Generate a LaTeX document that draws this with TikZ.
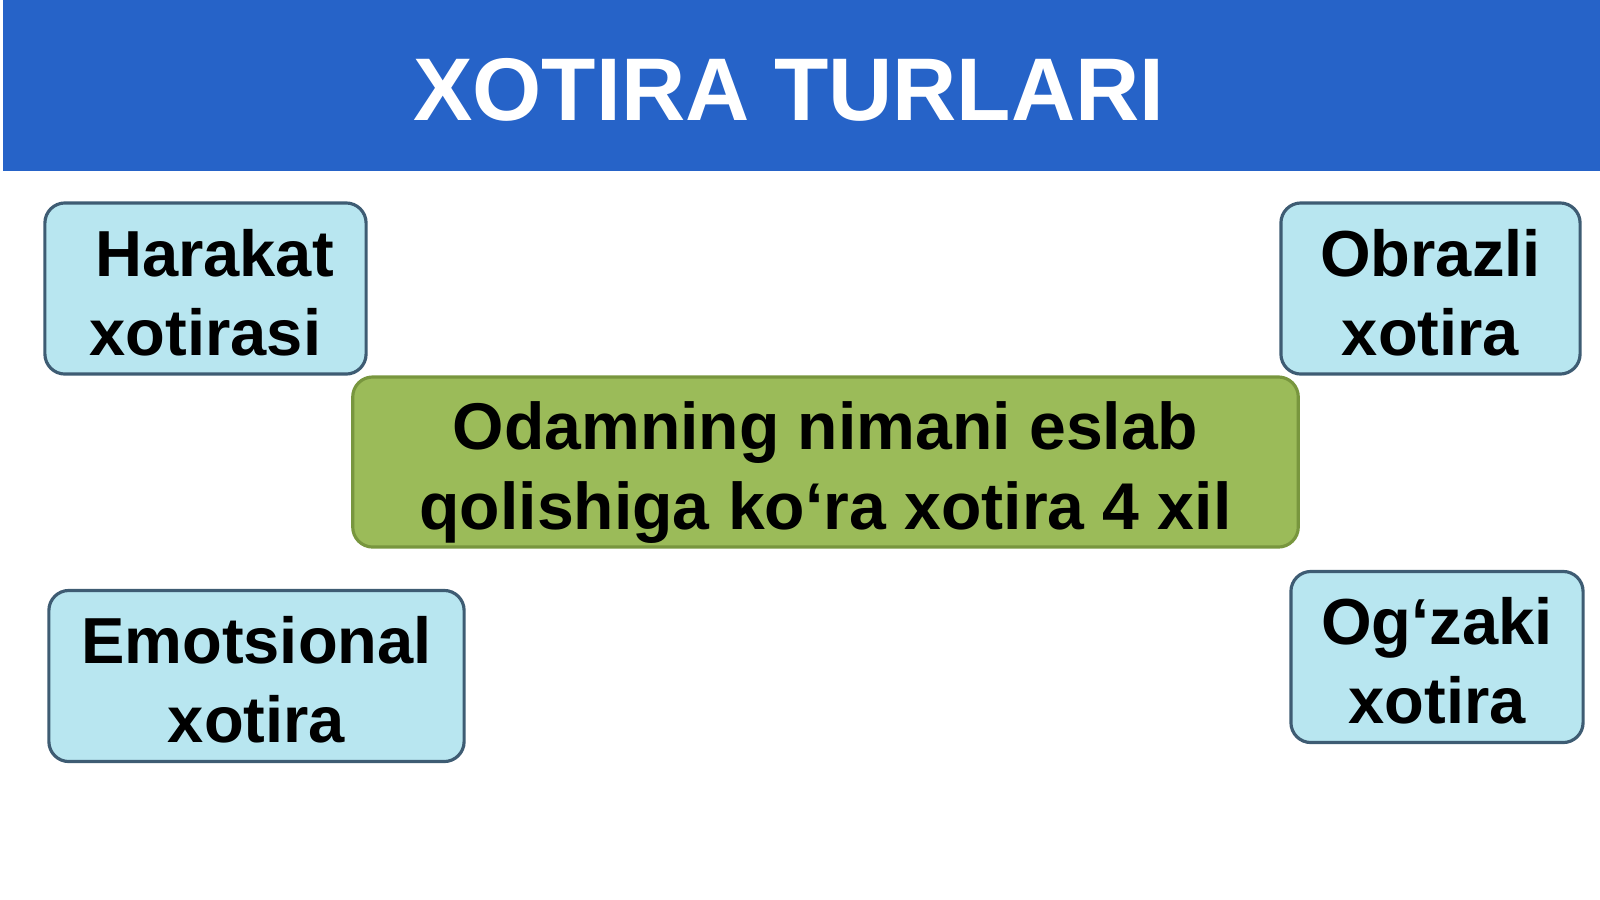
\documentclass[tikz,border=0pt]{standalone}
\usepackage{fontspec}
\setmainfont{Liberation Sans}
\definecolor{titleblue}{RGB}{38,99,200}
\definecolor{boxblue}{RGB}{184,230,240}
\definecolor{boxedge}{RGB}{62,92,115}
\definecolor{centergreen}{RGB}{155,187,89}
\definecolor{greenedge}{RGB}{120,150,62}
\newcommand{\kindstrut}{\rule{0pt}{15.7pt}}
\newcommand{\mainstrut}{\rule{0pt}{19.4pt}}

\begin{document}
\begin{tikzpicture}[x=0.01cm,y=-0.01cm]
%\tikzstyle{kind} = [draw, rounded corners]
\tikzstyle{boxbase} = [line width=0.9pt, rounded corners=0.2cm,
    align=center, inner sep=0pt]
\tikzstyle{kind} = [boxbase, draw=boxedge, fill=boxblue, minimum height=1.71cm,
    font=\bfseries\fontsize{18.5}{22.5}\selectfont]
\tikzstyle{main} = [boxbase, draw=greenedge, fill=centergreen, minimum height=1.70cm,
    font=\bfseries\fontsize{18.8}{22.8}\selectfont]
\useasboundingbox (0,0) rectangle (1600,899);
\fill[titleblue] (3,0) rectangle (1600,171);
\node[text=white, font=\bfseries\fontsize{25.3}{30}\selectfont] (title) at (789,90) {XOTIRA TURLARI};
\node[main, minimum width=9.45cm] (markaz) at (825.5,462) {\mainstrut Odamning nimani eslab\\qolishiga ko‘ra xotira 4 xil};
\node[kind, minimum width=3.21cm] (harakat) at (205.5,288.5) {\kindstrut\hspace*{5.1pt}Harakat\\xotirasi};
\node[kind, minimum width=2.99cm] (obrazli) at (1430.5,288.5) {\kindstrut Obrazli\\xotira};
\node[kind, minimum width=4.15cm] (emotsional) at (256.5,676) {\kindstrut Emotsional\\xotira};
\node[kind, minimum width=2.92cm] (ogzaki) at (1437,657) {\kindstrut Og‘zaki\\xotira};
\end{tikzpicture}
\end{document}
